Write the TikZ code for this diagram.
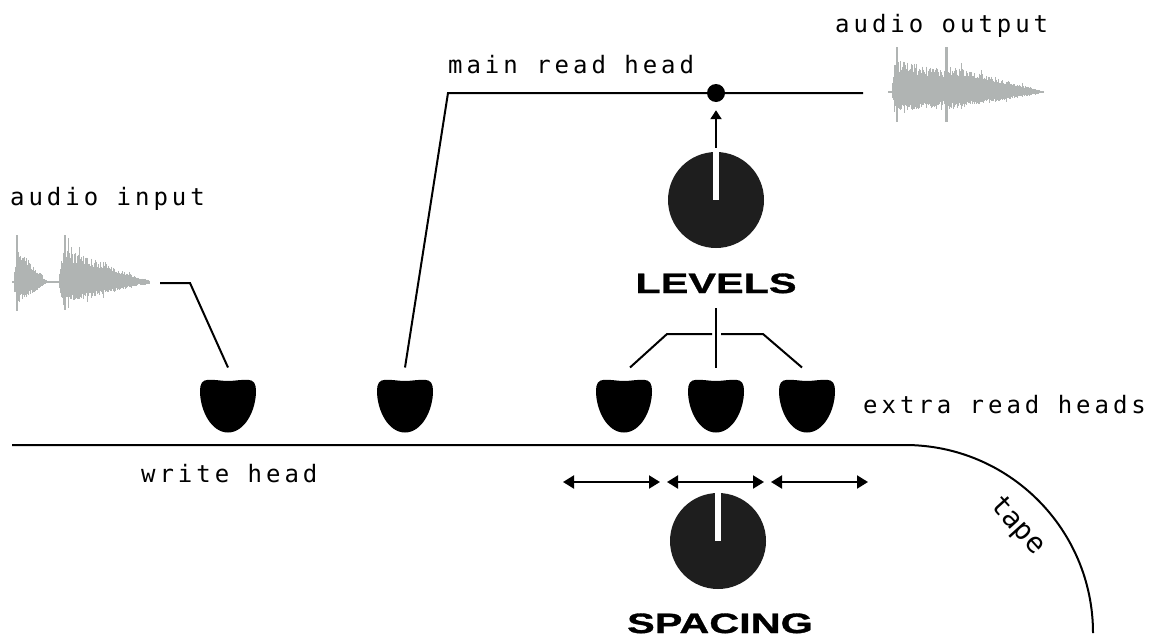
\documentclass[tikz,border=0pt]{standalone}
\usepackage{fontspec}
\usetikzlibrary{arrows.meta}
\newfontfamily\monofont{DejaVu Sans Mono}[LetterSpace=16.5]
\newfontfamily\tapefont{DejaVu Sans Mono}
\newfontfamily\heavyfont{Liberation Sans}[BoldFeatures={FakeStretch=1.48,FakeBold=1.2}]
\definecolor{wave}{HTML}{B0B4B3}
\definecolor{knob}{HTML}{1E1E1E}

% one burst of a waveform: x0, x1, centre y, upper amp, lower amp, decay exponent, attack length
\newcommand\waveburst[7]{%
  \pgfmathtruncatemacro\wvN{(#2-#1)/0.8}
  \foreach \k in {0,...,\wvN}{
    \pgfmathsetmacro\wvX{#1+0.8*\k}
    \pgfmathsetmacro\wvT{0.8*\k/(#2-#1)}
    \pgfmathsetmacro\wvS{rnd>0.92 ? 1.3 : 1}
    \pgfmathsetmacro\wvE{\wvS*min(1,(0.8*\k+0.5)/#7)*(1.02-\wvT)^#6}
    \pgfmathsetmacro\wvU{#4*\wvE*(0.6+0.4*rnd)}
    \pgfmathsetmacro\wvD{#5*\wvE*(0.6+0.4*rnd)}
    \draw[wave, line width=1pt] (\wvX,#3-\wvU-0.8) -- (\wvX,#3+\wvD+0.8);
  }%
}

% tape head outline, relative to the head's centre (y grows downwards)
\newcommand\headpath{%
  (-20,-26.2) .. controls (-12,-26.4) and (-6,-25) .. (0,-25)
  .. controls (6,-25) and (12,-26.4) .. (20,-26.2)
  .. controls (26,-26) and (28,-22) .. (28,-15)
  .. controls (28,4) and (17,26.5) .. (0,26.5)
  .. controls (-17,26.5) and (-28,4) .. (-28,-15)
  .. controls (-28,-22) and (-26,-26) .. (-20,-26.2) -- cycle}

\tikzset{
  label text/.style={font=\monofont\fontsize{24}{28}\selectfont, inner sep=0, anchor=base west},
  big label/.style={font=\heavyfont\bfseries\fontsize{28}{32}\selectfont, inner sep=0, anchor=base},
  wire/.style={line width=2pt, black},
  dot/.style={circle, fill=black, minimum size=18pt, inner sep=0},
  knobshape/.style={circle, fill=knob, minimum size=96pt, inner sep=0,
    path picture={\fill[white] ([xshift=-3pt,yshift=1pt]path picture bounding box.north)
      rectangle ([xshift=3pt]path picture bounding box.center);}},
  headshape/.style={minimum width=56pt, minimum height=53pt, inner sep=0,
    outer xsep=0, outer ysep=12pt},
  tip/.style={-{Triangle[width=11pt,length=9pt]}},
  both tips/.style={{Triangle[width=13pt,length=11pt]}-{Triangle[width=13pt,length=11pt]}}
}

\begin{document}
\begin{tikzpicture}[x=1pt,y=-1pt]
\useasboundingbox (0,0) rectangle (1158,637);
\pgfmathsetseed{12}

% tape
\draw[wire] (12,445) -- (905,445) arc[start angle=-90,end angle=0,radius=188];
\node[font=\tapefont\fontsize{28}{30}\selectfont, inner sep=0, rotate=-48] (tapelbl) at (1017,526) {tape};

% input waveform
\draw[wave, line width=1.2pt] (12,282) -- (150,282);
\waveburst{14}{46}{282}{35}{22}{0.9}{3}
\waveburst{59}{141}{282}{33}{21}{0.8}{4}
\waveburst{140}{150}{282}{3}{3}{0.5}{1}
\draw[wave, line width=1.6pt] (17,235) -- (17,311);
\draw[wave, line width=1.6pt] (65,235) -- (65,310);
\draw[wave, line width=1.6pt] (68.5,238) -- (68.5,308);

% output waveform
\draw[wave, line width=1.2pt] (888,92) -- (1044,92);
\waveburst{892}{1040}{92}{32}{20}{1.0}{4}
\waveburst{946}{1040}{92}{26}{17}{0.9}{3}
\draw[wave, line width=1.6pt] (897,47) -- (897,122);
\draw[wave, line width=3pt] (946,47) -- (946,122);

% heads
\node[headshape] (wh) at (228,406) {};
\node[headshape] (mrh) at (405,406) {};
\node[headshape] (eh1) at (624,406) {};
\node[headshape] (eh2) at (716,406) {};
\node[headshape] (eh3) at (807,406) {};
\foreach \h in {wh,mrh,eh1,eh2,eh3}
  \fill[black, shift={(\h.center)}] \headpath;

% labels
\node[label text] (ain) at (10,205) {audio input};
\node[label text] (aout) at (835,32) {audio output};
\node[label text] (mrl) at (448,73) {main read head};
\node[label text] (erl) at (863,413) {extra read heads};
\node[label text] (whl) at (141,482) {write head};

% knobs
\node[knobshape] (lev) at (716,200) {};
\node[big label] (levl) at (716,293) {LEVELS};
\node[knobshape] (spc) at (718,541) {};
\node[big label] (spcl) at (720,633) {SPACING};
\node[dot] (mix) at (716,93) {};

% signal paths
\coordinate (inwave) at (160,283);
\coordinate (outwave) at (863,93);
\draw[wire] (inwave) -- (190,283) -- (wh.north);
\draw[wire] (mrh.north) -- (448,93) -- (mix.center) -- (outwave);
\draw[wire, tip] ([yshift=4pt]lev.north) -- ([yshift=-8pt]mix.south);

% level fan-out to the extra heads
\draw[wire] ([yshift=-15pt]levl.base) -- (eh2.north);
\draw[wire] ([xshift=6pt]eh1.north) -- (667,334) -- (712,334);
\draw[wire] ([xshift=-5pt]eh3.north) -- (763,334) -- (721,334);

% spacing arrows
\foreach \a/\b in {563/660, 667/764, 771/868}
  \draw[wire, both tips] (\a,482) -- (\b,482);
\end{tikzpicture}
\end{document}
